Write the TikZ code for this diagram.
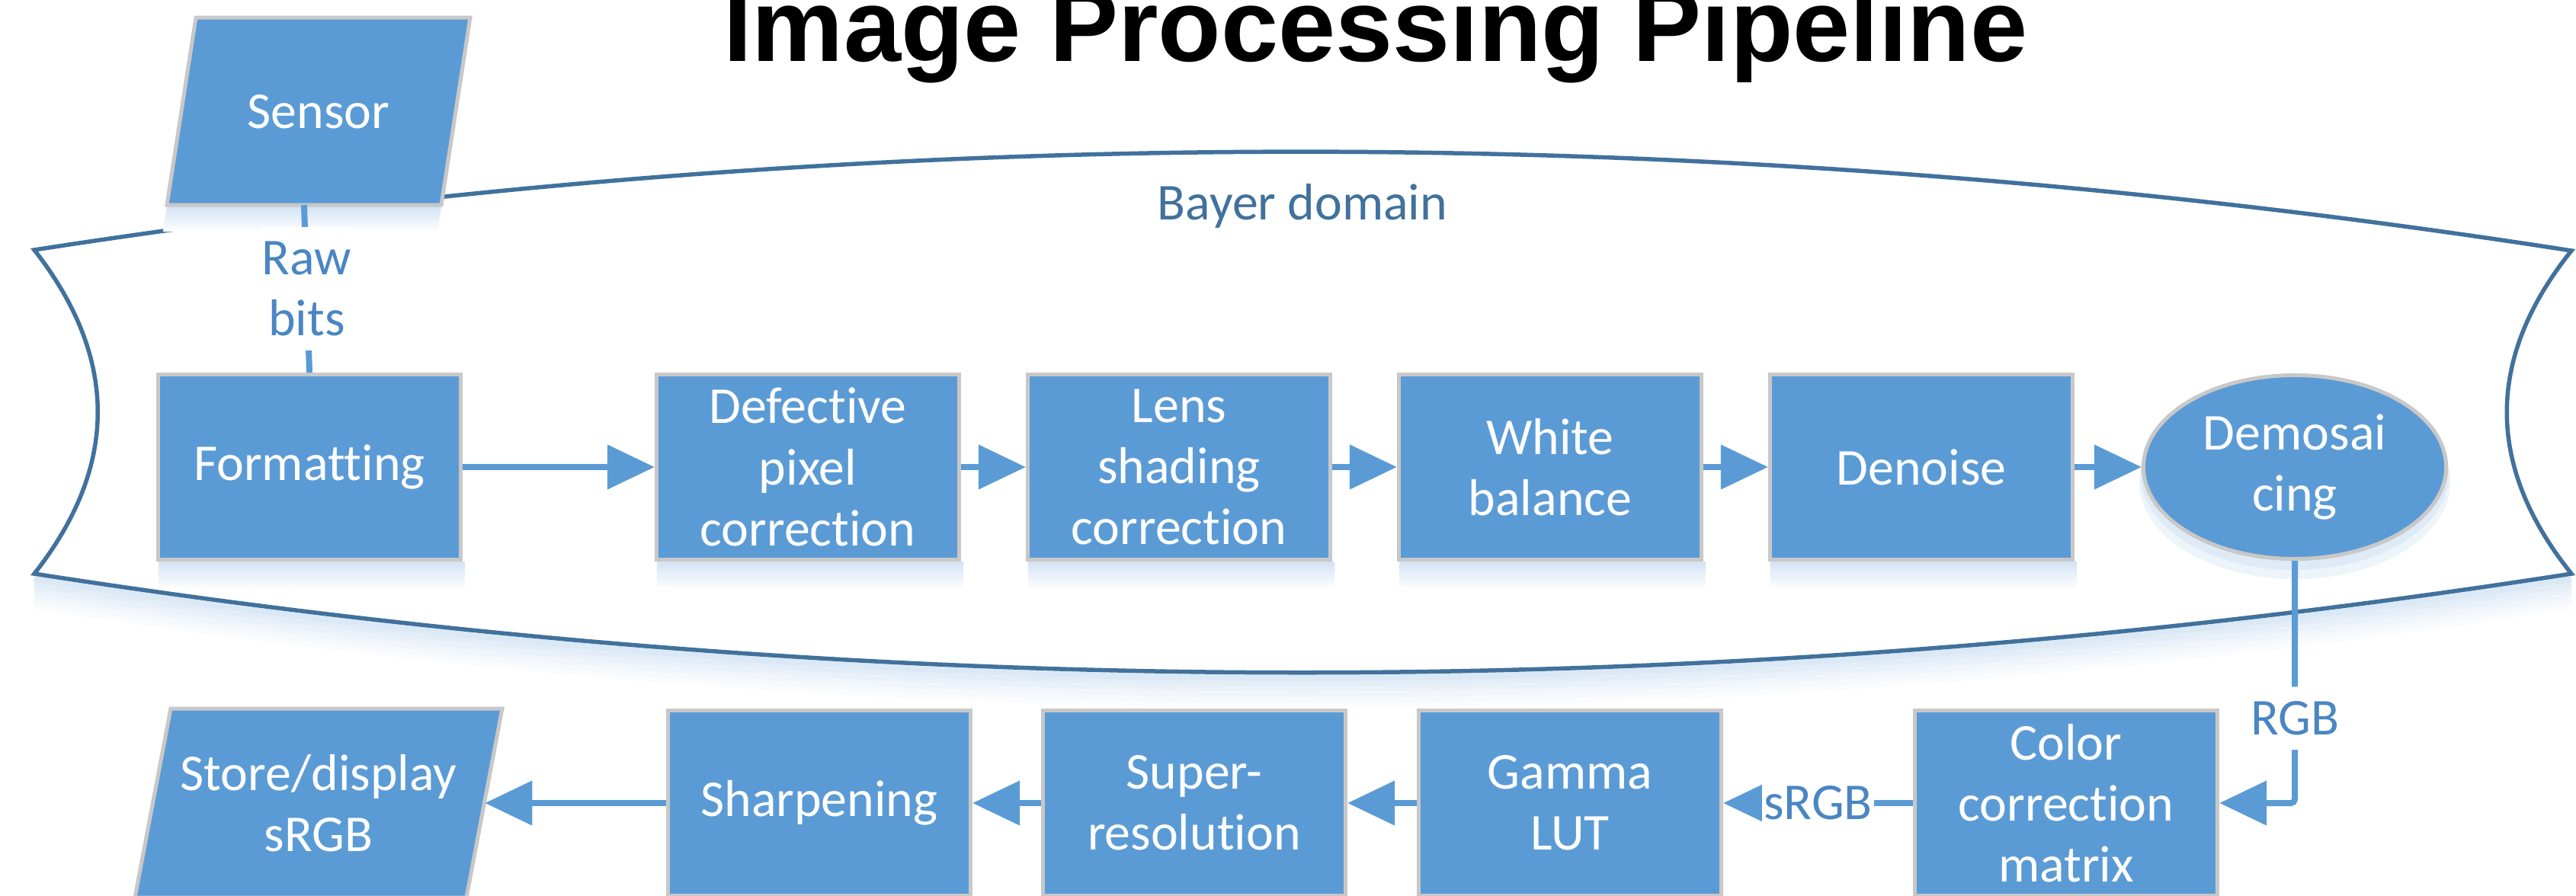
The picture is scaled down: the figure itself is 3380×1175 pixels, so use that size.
\documentclass[tikz,border=0pt]{standalone}
\usepackage{fontspec}
\setmainfont{Carlito}[Ligatures=NoCommon]
\newfontfamily\titlefont{Liberation Sans}
\usetikzlibrary{arrows.meta,shapes.geometric,calc}
\definecolor{boxfill}{HTML}{5B9BD5}
\definecolor{boxline}{HTML}{C8C8C8}
\definecolor{bayercol}{HTML}{41719C}
\definecolor{conncol}{HTML}{5B9BD5}
\definecolor{lblc}{HTML}{4A86C2}
\definecolor{shadowc}{HTML}{D3E3F3}
\begin{document}
\begin{tikzpicture}[x=0.01cm,y=-0.01cm,
  txt/.style={font=\fontsize{19.3pt}{22.8pt}\selectfont},
  box/.style={txt, rectangle, fill=boxfill, draw=boxline, line width=0.05cm,
    minimum width=3.97cm, minimum height=2.43cm, inner sep=0pt, text=white, align=center},
  oval/.style={txt, ellipse, fill=boxfill, draw=boxline, line width=0.05cm,
    minimum width=3.97cm, minimum height=2.41cm, inner sep=0pt, text=white, align=center},
  iotext/.style={txt, text=white, align=center, inner sep=0pt},
  io/.style={fill=boxfill, draw=boxline, line width=0.05cm},
  connline/.style={draw=conncol, line width=0.08cm},
  arr/.style={connline, -{Triangle[length=0.62cm,width=0.57cm]}},
  lbl/.style={txt, fill=white, text=lblc, inner xsep=0.02cm, inner ysep=0.19cm, align=center},
]
\useasboundingbox (0,0) rectangle (3380,1175);
\clip (0,0) rectangle (3380,1175);
\fill[white] (0,0) rectangle (3380,1175);

% title
\node[font=\titlefont\bfseries\fontsize{38.4pt}{40pt}\selectfont, anchor=base] (title) at (1805,80) {Image Processing Pipeline};

% Bayer domain shadow
\foreach \d/\c in {42/12,35/22,28/34,21/48,14/64,7/82} {
  \draw[line width=0.08cm, shadowc!\c!white, shift={(0,\d)}]
    (3374,753) .. controls (2264,926) and (1155,926) .. (45,753);
}
% Bayer domain region
\draw[draw=bayercol, fill=white, line width=0.055cm]
  (45,328) .. controls (1155,156) and (2264,156) .. (3374,329)
  .. controls (3261,470) and (3261,612) .. (3374,753)
  .. controls (2264,926) and (1155,926) .. (45,753)
  .. controls (156,612) and (156,470) .. cycle;
\node[txt, text=bayercol] (bd) at (1709,270) {Bayer domain};

% Sensor (data shape)
\shade[top color=shadowc, bottom color=white] (219,271) -- (579,271) -- (574,304) -- (214,304) -- cycle;
\draw[io] (257,23) -- (617,23) -- (579,269) -- (219,269) -- cycle;
\node[iotext] (sensor) at (418,147) {Sensor};
\coordinate (sensorb) at (399,269);

% top row
\node[box] (fmt) at (406,613) {Formatting};
\node[box] (def) at (1060,613) {Defective\\pixel\\correction};
\node[box] (lens) at (1547,613) {Lens\\shading\\correction};
\node[box] (wb) at (2034,613) {White\\balance};
\node[box] (den) at (2521,613) {Denoise};
\fill[shadowc!40!white] (3011,633) ellipse [x radius=204, y radius=127];
\fill[shadowc!75!white] (3011,623) ellipse [x radius=202, y radius=125];
\node[oval] (dem) at (3011,613) {Demosai\\cing};
\foreach \n in {fmt,def,lens,wb,den}
  \shade[top color=shadowc, bottom color=white] ([xshift=0.03cm]\n.south west) rectangle ([xshift=0.03cm,yshift=-0.36cm]\n.south east);

% bottom row
\node[box] (shp) at (1075,1054) {Sharpening};
\node[box] (sup) at (1567,1054) {Super-\\resolution};
\node[box] (gam) at (2060,1054) {Gamma\\LUT};
\node[box] (col) at (2711,1054) {Color\\correction\\matrix};
\draw[io] (224,930) -- (659,930) -- (612,1178) -- (177,1178) -- cycle;
\node[iotext, minimum width=4.35cm] (store) at (418,1054) {Store/display\\sRGB};

% connectors
\draw[connline] (sensorb) -- node[lbl] (rawlbl) {Raw\\bits} (fmt.north);
\draw[arr] (fmt.east) -- (def.west);
\draw[arr] (def.east) -- (lens.west);
\draw[arr] (lens.east) -- (wb.west);
\draw[arr] (wb.east) -- (den.west);
\draw[arr] (den.east) -- (dem.west);
\draw[arr, rounded corners=0.05cm] (dem.south) -- node[lbl, pos=0.65] (rgblbl) {RGB} (dem.south |- col.east) -- (col.east);
\draw[arr] (col.west) -- node[lbl] (srgblbl) {sRGB} (gam.east);
\draw[arr] (gam.west) -- (sup.east);
\draw[arr] (sup.west) -- (shp.east);
\draw[arr] (shp.west) -- (store.east);
\end{tikzpicture}
\end{document}
